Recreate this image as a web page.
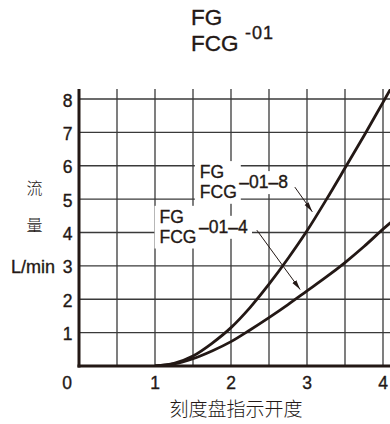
<!DOCTYPE html>
<html>
<head>
<meta charset="utf-8">
<script src="https://cdn.jsdelivr.net/npm/d3@7"></script>
<style>
  body { margin: 0; background: #fff; }
  svg { display: block; }
  text { font-family: "Liberation Sans", Arial, sans-serif; fill: #231815; stroke: #231815; stroke-width: 0.35; }
  .cjk { font-family: "Noto Sans CJK SC", sans-serif; font-weight: 300; stroke: none; }
</style>
</head>
<body>
<div id="chart"></div>
<script>
let width = 390;
let height = 424;
let margin = { top: 89, right: 0, bottom: 58, left: 79 };

// dial opening (x) and flow L/min (y)
const opening = [1, 1.25, 1.5, 1.75, 2, 2.25, 2.5, 2.75, 3, 3.25, 3.5, 3.75, 4, 4.1];
const flow8 = [0, 0.08, 0.3, 0.68, 1.15, 1.75, 2.45, 3.22, 4.05, 4.97, 5.93, 6.9, 7.9, 8.3];
const flow4 = [0, 0.06, 0.22, 0.45, 0.73, 1.08, 1.45, 1.84, 2.25, 2.66, 3.1, 3.58, 4.1, 4.3];

const xTicks = [0, 1, 2, 3, 4];
const yTicks = [1, 2, 3, 4, 5, 6, 7, 8];
const xGrid = [0.5, 1, 1.5, 2, 2.5, 3, 3.5, 4];

// annotation anchors (data space): label position, arrow start, arrow tip
const labels = [
  { name: "–01–8", x: 1.59, y: 5.63, from: [2.84, 5.36], to: [3.07, 4.62] },
  { name: "–01–4", x: 1.06, y: 4.29, from: [2.34, 4.07], to: [2.91, 2.29] },
];

const svg = d3
  .select("#chart")
  .append("svg")
  .attr("width", width)
  .attr("height", height);

const xScale = d3
  .scaleLinear()
  .domain([0, 4])
  .range([margin.left, 383]);

const yScale = d3
  .scaleLinear()
  .domain([0, 8])
  .range([height - margin.bottom, 99]);

const plotBottom = yScale(0);
const plotTop = margin.top;
const plotRight = width;

// title
const title = svg.append("g");
title.append("text").attr("x", 191).attr("y", 25)
  .attr("font-size", 22.5).text("FG");
title.append("text").attr("x", 191).attr("y", 50.5)
  .attr("font-size", 22.5).text("FCG");
title.append("text").attr("x", 245).attr("y", 38.5)
  .attr("font-size", 18).attr("letter-spacing", 1).text("-01");

// grid
svg.append("g")
  .selectAll("line")
  .data(yTicks)
  .enter()
  .append("line")
  .attr("x1", margin.left)
  .attr("x2", plotRight)
  .attr("y1", (d) => yScale(d))
  .attr("y2", (d) => yScale(d))
  .attr("stroke", "#3a3a3a")
  .attr("stroke-width", 1.3);

svg.append("g")
  .selectAll("line")
  .data(xGrid)
  .enter()
  .append("line")
  .attr("x1", (d) => xScale(d))
  .attr("x2", (d) => xScale(d))
  .attr("y1", plotTop)
  .attr("y2", plotBottom)
  .attr("stroke", "#3a3a3a")
  .attr("stroke-width", 1.3);

// label backgrounds + texts
const labelGroup = svg.append("g");
labels.forEach((lab) => {
  const g = labelGroup.append("g");
  const lx = xScale(lab.x);
  const ly = yScale(lab.y);
  const stack = g.append("g");
  stack.append("text").attr("x", lx).attr("y", ly).attr("font-size", 17.5).text("FG");
  stack.append("text").attr("x", lx).attr("y", ly + 19.7).attr("font-size", 17.5).text("FCG");
  const suffix = g.append("text")
    .attr("x", lx + 39.5)
    .attr("y", ly + 10)
    .attr("font-size", 17.5)
    .text(lab.name);

  [stack, suffix].forEach((node) => {
    const b = node.node().getBBox();
    g.insert("rect", ":first-child")
      .attr("x", b.x - 5)
      .attr("y", b.y - 1)
      .attr("width", b.width + 9)
      .attr("height", b.height + 3)
      .attr("fill", "#fff");
  });
});

// curves
svg.append("clipPath")
  .attr("id", "plotClip")
  .append("rect")
  .attr("x", margin.left)
  .attr("y", plotTop)
  .attr("width", plotRight - margin.left)
  .attr("height", plotBottom - plotTop);

const line = d3
  .line()
  .x((d) => xScale(d[0]))
  .y((d) => yScale(d[1]))
  .curve(d3.curveMonotoneX);

[flow8, flow4].forEach((series) => {
  svg.append("path")
    .datum(opening.map((x, i) => [x, series[i]]))
    .attr("clip-path", "url(#plotClip)")
    .attr("fill", "none")
    .attr("stroke", "#231815")
    .attr("stroke-width", 2.8)
    .attr("d", line);
});

// arrows
svg.append("defs")
  .append("marker")
  .attr("id", "arrowHead")
  .attr("markerUnits", "userSpaceOnUse")
  .attr("viewBox", "0 0 10 6")
  .attr("refX", 10)
  .attr("refY", 3)
  .attr("markerWidth", 10)
  .attr("markerHeight", 6)
  .attr("orient", "auto")
  .append("path")
  .attr("d", "M0,0.6L10,3L0,5.4Z")
  .attr("fill", "#231815");

labels.forEach((lab) => {
  svg.append("line")
    .attr("x1", xScale(lab.from[0]))
    .attr("y1", yScale(lab.from[1]))
    .attr("x2", xScale(lab.to[0]))
    .attr("y2", yScale(lab.to[1]))
    .attr("stroke", "#231815")
    .attr("stroke-width", 1)
    .attr("marker-end", "url(#arrowHead)");
});

// axes
svg.append("line")
  .attr("x1", margin.left)
  .attr("x2", margin.left)
  .attr("y1", plotTop)
  .attr("y2", plotBottom + 1.5)
  .attr("stroke", "#231815")
  .attr("stroke-width", 3);

svg.append("line")
  .attr("x1", margin.left - 1.5)
  .attr("x2", plotRight)
  .attr("y1", plotBottom)
  .attr("y2", plotBottom)
  .attr("stroke", "#231815")
  .attr("stroke-width", 3);

// tick labels
svg.append("g")
  .selectAll("text")
  .data(yTicks)
  .enter()
  .append("text")
  .attr("x", margin.left - 6.5)
  .attr("y", (d) => yScale(d) + 7.5)
  .attr("text-anchor", "end")
  .attr("font-size", 17.5)
  .text((d) => d);

svg.append("g")
  .selectAll("text")
  .data(xTicks)
  .enter()
  .append("text")
  .attr("x", (d) => (d === 0 ? xScale(d) - 12 : xScale(d)))
  .attr("y", plotBottom + 22.5)
  .attr("text-anchor", "middle")
  .attr("font-size", 17.5)
  .text((d) => d);

// axis titles
svg.append("text")
  .attr("class", "cjk")
  .attr("x", 34.5)
  .attr("y", 194)
  .attr("text-anchor", "middle")
  .attr("font-size", 16)
  .text("流");

svg.append("text")
  .attr("class", "cjk")
  .attr("x", 34.5)
  .attr("y", 231)
  .attr("text-anchor", "middle")
  .attr("font-size", 16)
  .text("量");

svg.append("text")
  .attr("x", 55)
  .attr("y", yScale(3) + 7)
  .attr("text-anchor", "end")
  .attr("font-size", 18)
  .text("L/min");

svg.append("text")
  .attr("class", "cjk")
  .attr("x", 236)
  .attr("y", 416)
  .attr("text-anchor", "middle")
  .attr("font-size", 19)
  .text("刻度盘指示开度");
</script>
</body>
</html>
